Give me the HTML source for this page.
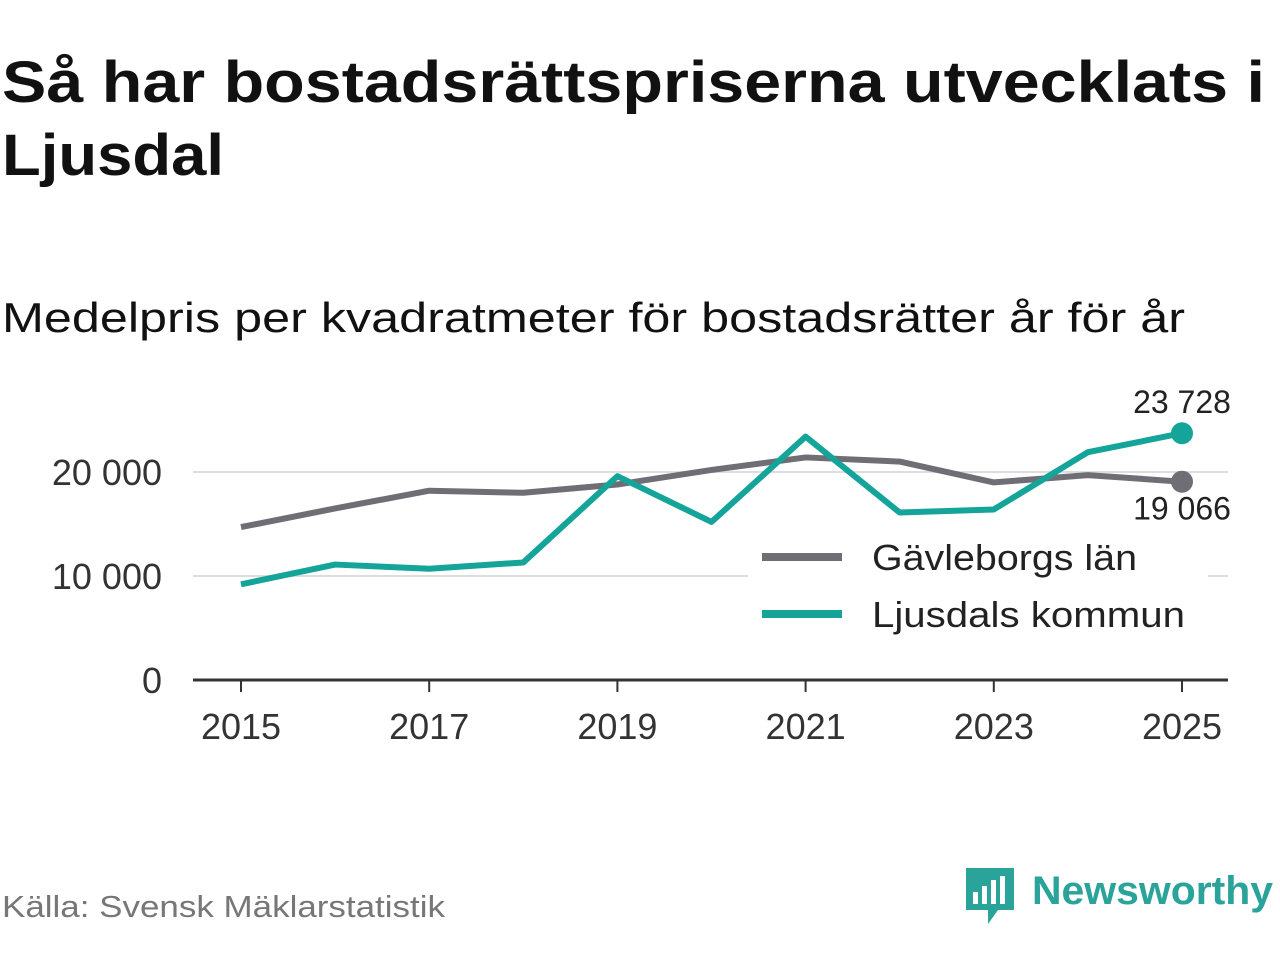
<!DOCTYPE html>
<html><head><meta charset="utf-8"><style>
body{margin:0;width:1280px;height:960px;background:#fff;overflow:hidden;font-family:"DejaVu Sans","Liberation Sans",sans-serif;}
</style></head><body>
<svg width="1280" height="960" xmlns="http://www.w3.org/2000/svg">
<text x="2" y="102" font-size="58" font-weight="bold" fill="#111" font-family="Liberation Sans,sans-serif" textLength="1263" lengthAdjust="spacingAndGlyphs">Så har bostadsrättspriserna utvecklats i</text>
<text x="2" y="175" font-size="58" font-weight="bold" fill="#111" font-family="Liberation Sans,sans-serif" textLength="222" lengthAdjust="spacingAndGlyphs">Ljusdal</text>
<text x="2" y="332" font-size="42" fill="#111" font-family="Liberation Sans,sans-serif" textLength="1183" lengthAdjust="spacingAndGlyphs">Medelpris per kvadratmeter för bostadsrätter år för år</text>
<g id="grid"></g>
<g id="axes"></g>
<g id="lines"></g>
<g>
<rect x="748" y="535" width="460" height="110" fill="#fff"/>
<line x1="762" y1="557" x2="842" y2="557" stroke="#6f6e75" stroke-width="8"/>
<text x="872" y="570" font-size="36" fill="#222" font-family="Liberation Sans,sans-serif" textLength="265" lengthAdjust="spacingAndGlyphs">Gävleborgs län</text>
<line x1="762" y1="614" x2="842" y2="614" stroke="#14a49a" stroke-width="8"/>
<text x="872" y="627" font-size="36" fill="#222" font-family="Liberation Sans,sans-serif" textLength="313" lengthAdjust="spacingAndGlyphs">Ljusdals kommun</text>
</g>
<text x="2" y="917" font-size="31" fill="#777" font-family="Liberation Sans,sans-serif" textLength="443" lengthAdjust="spacingAndGlyphs">Källa: Svensk Mäklarstatistik</text>
<g>
<path d="M966 868h48v42h-16l-10 14v-14h-22z" fill="#2aa39a"/>
<rect x="973" y="892" width="5" height="12" fill="#fff"/><rect x="982" y="886" width="5" height="18" fill="#fff"/><rect x="991" y="880" width="5" height="24" fill="#fff"/><rect x="1000" y="876" width="5" height="28" fill="#fff"/>
<text x="1032" y="904" font-size="40" font-weight="bold" fill="#2aa39a" font-family="Liberation Sans,sans-serif" textLength="241" lengthAdjust="spacingAndGlyphs">Newsworthy</text>
</g>
</svg>
<script>
const years=[2015,2016,2017,2018,2019,2020,2021,2022,2023,2024,2025];
const gavleborg=[14700,16500,18200,18000,18800,20200,21400,21000,19000,19700,19066];
const ljusdal=[9200,11100,10700,11300,19600,15200,23400,16100,16400,21900,23728];
const yTicks=[0,10000,20000];
const yTickLabels=["0","10 000","20 000"];
const xTicks=[2015,2017,2019,2021,2023,2025];
const NS="http://www.w3.org/2000/svg";
const xs=y=>241+(y-2015)*94.1;
const ys=v=>680-v*0.0104;
function mk(t,a,p){const e=document.createElementNS(NS,t);for(const k in a)e.setAttribute(k,a[k]);p.appendChild(e);return e;}
const grid=document.getElementById('grid'),axes=document.getElementById('axes'),lines=document.getElementById('lines');
yTicks.forEach((v,i)=>{
 if(v>0){const l=mk('line',{x1:193,x2:1228,y1:ys(v),y2:ys(v),stroke:'#ddd','stroke-width':2},grid);
 
 }
 const t=mk('text',{x:162,y:ys(v)+13,'font-size':36,fill:'#333','text-anchor':'end','font-family':'Liberation Sans,sans-serif'},axes);
 t.textContent=yTickLabels[i];
 
 
});
const ax=mk('line',{x1:193,x2:1228,y1:680,y2:680,stroke:'#333','stroke-width':3},axes);


xTicks.forEach(y=>{
 const tk=mk('line',{x1:xs(y),x2:xs(y),y1:680,y2:692,stroke:'#333','stroke-width':2},axes);
 
 
 const t=mk('text',{x:xs(y),y:739,'font-size':36,fill:'#333','text-anchor':'middle','font-family':'Liberation Sans,sans-serif'},axes);
 t.textContent=y;
 
 
});
function series(data,color,name){
 const p=mk('polyline',{points:data.map((v,i)=>xs(years[i])+','+ys(v)).join(' '),fill:'none',stroke:color,'stroke-width':6,'stroke-linejoin':'round'},lines);
 
 
 const n=data.length-1;
 const c=mk('circle',{cx:xs(years[n]),cy:ys(data[n]),r:11,fill:color},lines);
 
 
}
series(gavleborg,'#6f6e75','gavleborg');
series(ljusdal,'#14a49a','ljusdal');
const fmt=v=>String(Math.round(v)).replace(/\B(?=(\d{3})+(?!\d))/g,' ');
const l1=mk('text',{x:1182,y:ys(ljusdal[10])-20,'font-size':32,fill:'#222','text-anchor':'middle','font-family':'Liberation Sans,sans-serif'},lines);
l1.textContent=fmt(ljusdal[10]);


const l2=mk('text',{x:1182,y:ys(gavleborg[10])+38,'font-size':32,fill:'#222','text-anchor':'middle','font-family':'Liberation Sans,sans-serif'},lines);
l2.textContent=fmt(gavleborg[10]);


</script>
</body></html>
